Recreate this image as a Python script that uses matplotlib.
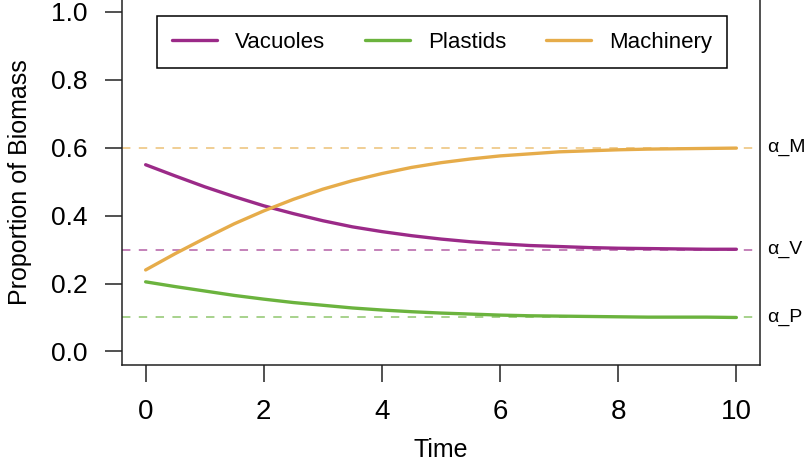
import matplotlib
matplotlib.use("Agg")
import matplotlib.pyplot as plt
from matplotlib.ticker import FormatStrFormatter

plt.rcParams['font.family'] = ['Liberation Sans', 'DejaVu Sans']

# values, every half time unit
time = [0, 0.5, 1, 1.5, 2, 2.5, 3, 3.5, 4, 4.5, 5, 5.5, 6, 6.5, 7, 7.5, 8, 8.5, 9, 9.5, 10]
vacuoles = [0.550, 0.517, 0.485, 0.456, 0.429, 0.406, 0.385, 0.367, 0.353, 0.341, 0.331,
            0.323, 0.317, 0.312, 0.309, 0.306, 0.304, 0.303, 0.302, 0.301, 0.301]
plastids = [0.205, 0.191, 0.178, 0.165, 0.154, 0.144, 0.136, 0.128, 0.122, 0.117, 0.113,
            0.110, 0.107, 0.105, 0.104, 0.103, 0.102, 0.101, 0.101, 0.101, 0.100]
machinery = [0.240, 0.288, 0.333, 0.376, 0.414, 0.448, 0.478, 0.503, 0.524, 0.542, 0.556,
             0.567, 0.576, 0.582, 0.588, 0.591, 0.594, 0.596, 0.597, 0.598, 0.599]

alpha_names = ["α_M", "α_V", "α_P"]
alpha_values = [0.6, 0.3, 0.1]

col_v = '#9b2a88'
col_p = '#6bb33e'
col_m = '#e6ac4a'

fig = plt.figure(figsize=(8.12, 4.69), dpi=100)
ax = fig.add_axes([122 / 812, 104 / 469, 638 / 812, 366.6 / 469])

for val, col in zip(alpha_values, [col_m, col_v, col_p]):
    ax.axhline(val, color=col, alpha=0.75, linewidth=1.1, linestyle=(0, (5.5, 5.5)))

ax.plot(time, vacuoles, color=col_v, linewidth=2.4, label="Vacuoles",
        solid_capstyle='round', solid_joinstyle='round')
ax.plot(time, plastids, color=col_p, linewidth=2.4, label="Plastids",
        solid_capstyle='round', solid_joinstyle='round')
ax.plot(time, machinery, color=col_m, linewidth=2.4, label="Machinery",
        solid_capstyle='round', solid_joinstyle='round')

for name, val in zip(alpha_names, alpha_values):
    ax.text(1.011, val, name, transform=ax.get_yaxis_transform(), fontsize=14,
            ha='left', va='center', clip_on=False)

ax.set_xlim(-0.4, 10.4)
ax.set_ylim(-0.04, 1.04)
ax.set_xticks([0, 2, 4, 6, 8, 10])
ax.set_yticks([0.0, 0.2, 0.4, 0.6, 0.8, 1.0])
ax.yaxis.set_major_formatter(FormatStrFormatter('%.1f'))
ax.tick_params(axis='both', length=12.5, width=1.1, color='#222222')
ax.tick_params(axis='y', pad=12.5, labelsize=19)
ax.tick_params(axis='x', pad=12, labelsize=20)
for sp in ax.spines.values():
    sp.set_linewidth(1.1)
    sp.set_color('#222222')

ax.set_xlabel("Time", fontsize=18)
ax.set_ylabel("Proportion of Biomass", fontsize=18)
ax.xaxis.set_label_coords(0.5, -0.199)
ax.yaxis.set_label_coords(-0.141, 0.5)

leg = ax.legend(loc='upper center', bbox_to_anchor=(0.5016, 0.952), ncol=3, fontsize=16,
                frameon=True, fancybox=False, edgecolor='black', framealpha=1,
                handlelength=2.03, handletextpad=0.81, columnspacing=1.78,
                borderpad=0.7, borderaxespad=0)
leg.get_frame().set_linewidth(1.1)

fig.savefig("out.png", dpi=100)
